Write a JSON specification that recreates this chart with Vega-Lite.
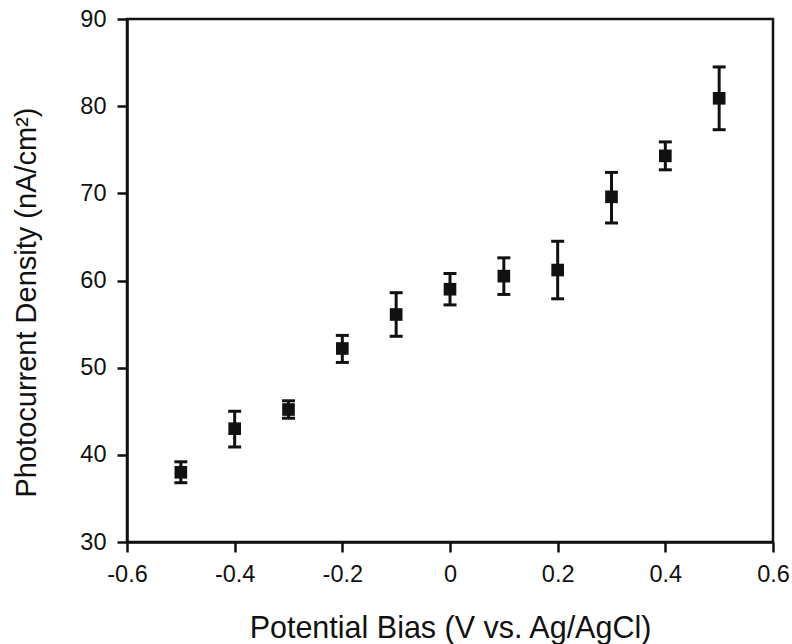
{
  "$schema": "https://vega.github.io/schema/vega-lite/v6.json",
  "autosize": {"type": "none"},
  "padding": {"left": 127, "top": 19, "right": 19, "bottom": 102},
  "width": 646,
  "height": 523,
  "background": "white",
  "config": {
    "font": "Liberation Sans",
    "view": {"stroke": "#111111", "strokeWidth": 2.5},
    "axis": {
      "grid": false,
      "domainColor": "#111111",
      "domainWidth": 2.5,
      "tickColor": "#111111",
      "tickWidth": 2.5,
      "tickSize": 10,
      "labelFont": "Liberation Sans",
      "labelFontSize": 23.5,
      "labelColor": "#111111",
      "titleFont": "Liberation Sans",
      "titleFontSize": 29,
      "titleFontWeight": "normal",
      "titleColor": "#111111"
    }
  },
  "data": {
    "values": [
      {"bias": -0.5, "density": 38.0, "lo": 36.8, "hi": 39.2},
      {"bias": -0.4, "density": 43.0, "lo": 40.9, "hi": 45.0},
      {"bias": -0.3, "density": 45.2, "lo": 44.2, "hi": 46.2},
      {"bias": -0.2, "density": 52.2, "lo": 50.6, "hi": 53.7},
      {"bias": -0.1, "density": 56.1, "lo": 53.6, "hi": 58.6},
      {"bias": 0.0, "density": 59.0, "lo": 57.2, "hi": 60.8},
      {"bias": 0.1, "density": 60.5, "lo": 58.4, "hi": 62.6},
      {"bias": 0.2, "density": 61.2, "lo": 57.9, "hi": 64.5},
      {"bias": 0.3, "density": 69.6, "lo": 66.6, "hi": 72.4},
      {"bias": 0.4, "density": 74.3, "lo": 72.7, "hi": 75.9},
      {"bias": 0.5, "density": 80.9, "lo": 77.3, "hi": 84.5}
    ]
  },
  "encoding": {
    "x": {
      "field": "bias",
      "type": "quantitative",
      "scale": {"domain": [-0.6, 0.6], "nice": false, "zero": false},
      "axis": {
        "title": "Potential Bias (V vs. Ag/AgCl)",
        "values": [-0.6, -0.4, -0.2, 0, 0.2, 0.4, 0.6],
        "format": ".1~f",
        "labelExpr": "replace(datum.label, '−', '-')",
        "labelPadding": 10,
        "labelFlush": false,
        "titleFontSize": 30.5,
        "titleBaseline": "alphabetic",
        "titleY": 95,
        "titleX": 323
      }
    }
  },
  "layer": [
    {
      "mark": {"type": "rule", "color": "#111111", "strokeWidth": 3},
      "encoding": {
        "y": {
          "field": "lo",
          "type": "quantitative",
          "scale": {"domain": [30, 90], "nice": false, "zero": false},
          "axis": {
            "title": "Photocurrent Density (nA/cm²)",
            "values": [30, 40, 50, 60, 70, 80, 90],
            "labelPadding": 11,
            "labelFlush": false,
            "titleAngle": -90,
            "titleBaseline": "alphabetic",
            "titleX": -92,
            "titleY": 283
          }
        },
        "y2": {"field": "hi"}
      }
    },
    {
      "mark": {"type": "tick", "orient": "horizontal", "color": "#111111", "size": 13, "thickness": 3, "opacity": 1},
      "encoding": {"y": {"field": "lo", "type": "quantitative"}}
    },
    {
      "mark": {"type": "tick", "orient": "horizontal", "color": "#111111", "size": 13, "thickness": 3, "opacity": 1},
      "encoding": {"y": {"field": "hi", "type": "quantitative"}}
    },
    {
      "mark": {"type": "point", "shape": "square", "filled": true, "color": "#111111", "size": 160, "opacity": 1},
      "encoding": {"y": {"field": "density", "type": "quantitative"}}
    }
  ]
}
